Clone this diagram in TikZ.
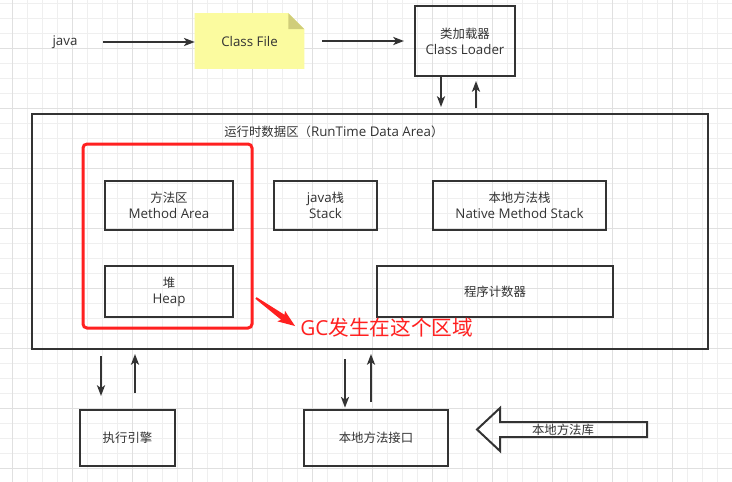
\documentclass[tikz,border=0pt]{standalone}
\usepackage{fontspec}
\setmainfont{Open Sans}
\newfontfamily\cjk{Noto Sans CJK SC}
\usetikzlibrary{arrows.meta}
\definecolor{ink}{HTML}{333333}
\definecolor{gridminor}{HTML}{EFEFEF}
\definecolor{gridmajor}{HTML}{E0E0E0}
\definecolor{gcred}{HTML}{FF2020}
\definecolor{notefill}{HTML}{FBFB9F}
\definecolor{notefold}{HTML}{D0CD7A}
\pgfdeclarelayer{gridlayer}
\pgfdeclarelayer{bg}
\pgfsetlayers{gridlayer,bg,main}
\newcommand\zh[1]{{\cjk\fontsize{9.3pt}{12pt}\selectfont #1}}
\newcommand\zhbig[1]{{\cjk\fontsize{15.5pt}{18pt}\selectfont #1}}
\tikzset{
  every node/.style={font=\fontsize{10pt}{12pt}\selectfont, text=ink},
  blk/.style n args={2}{draw=ink, line width=1.5pt, minimum width=#1*0.75pt,
    minimum height=#2*0.75pt, inner sep=0pt, align=center},
  conn/.style={draw=ink, line width=1.5pt, -{Stealth[length=8pt,width=6pt,inset=2pt]}},
}
\begin{document}
\begin{tikzpicture}[x=0.75pt, y=-0.75pt]
\useasboundingbox (0,0) rectangle (732,482);
\begin{pgfonlayer}{gridlayer}
  \fill[white] (0,0) rectangle (732,482);
  \foreach \i in {0,...,48} \draw[gridminor, line width=0.75pt] ({12+15*\i},0) -- ({12+15*\i},482);
  \foreach \i in {0,...,32} \draw[gridminor, line width=0.75pt] (0,{3+15*\i}) -- (732,{3+15*\i});
  \foreach \i in {0,...,12} \draw[gridmajor, line width=0.75pt] ({12+60*\i},0) -- ({12+60*\i},482);
  \foreach \i in {0,...,7} \draw[gridmajor, line width=0.75pt] (0,{48+60*\i}) -- (732,{48+60*\i});
\end{pgfonlayer}

% top row
\node[inner sep=0pt] (java) at (65,42) {java};
\node[minimum width=109*0.75pt, minimum height=55*0.75pt, inner sep=0pt] (cf) at (249.5,41) {Class File};
\begin{pgfonlayer}{bg}
  \fill[notefill] (cf.south west) -- (cf.south east) -- ([yshift=-12pt]cf.north east)
    -- ([xshift=-12pt]cf.north east) -- (cf.north west) -- cycle;
  \fill[notefold] ([xshift=-12pt]cf.north east) -- ([xshift=-12pt,yshift=-12pt]cf.north east)
    -- ([yshift=-12pt]cf.north east) -- cycle;
\end{pgfonlayer}
\node[blk={100}{70}] (cl) at (465,41) {\zh{类加载器}\\Class Loader};

% runtime data area
\node[blk={676}{235}] (rda) at (370,231.5) {};
\node[inner sep=0pt, anchor=west] (title) at (224,132) {\zh{运行时数据区（}RunTime Data Area\zh{）}};
\node[draw=gcred, line width=2.25pt, rounded corners=3pt, minimum width=169*0.75pt,
  minimum height=184*0.75pt, inner sep=0pt] (gcbox) at (167.5,236) {};
\node[blk={128}{49}] (ma) at (169,205.5) {\zh{方法区}\\Method Area};
\node[blk={128}{51}] (heap) at (169,291.5) {\zh{堆}\\Heap};
\node[blk={103}{49}] (js) at (325.5,205.5) {java\zh{栈}\\Stack};
\node[blk={173}{49}] (nms) at (519.5,205.5) {\zh{本地方法栈}\\Native Method Stack};
\node[blk={236}{51}] (pc) at (495,291.5) {\zh{程序计数器}};

% GC annotation
\fill[gcred] (256.58,297.19) -- (284.55,314.8) -- (284.96,310.79) -- (295,326)
  -- (277.38,321.35) -- (281.05,319.68) -- (255.42,298.81) -- cycle;
\node[inner sep=0pt, anchor=west, text=gcred, font=\fontsize{15.5pt}{18pt}\selectfont] (gctext) at (300,328) {GC\zhbig{发生在这个区域}};

% bottom row
\node[blk={95}{56}] (ee) at (127.5,438) {\zh{执行引擎}};
\node[blk={144}{56}] (nmi) at (376,438) {\zh{本地方法接口}};
\draw[ink, line width=1.5pt, line join=miter] (647,422) -- (500,422) -- (500,408) -- (477,429.5)
  -- (500,451) -- (500,437) -- (647,437) -- cycle;
\node[inner sep=0pt] (lib) at (563,430) {\zh{本地方法库}};

% connectors
\coordinate (xa) at (441,0);
\coordinate (xb) at (476,0);
\coordinate (xc) at (101,0);
\coordinate (xd) at (135,0);
\coordinate (xe) at (345,0);
\coordinate (xf) at (371,0);
\draw[conn, shorten <=19pt] (java.east) -- (java.east -| cf.west);
\draw[conn, shorten <=13.5pt, shorten >=7.5pt] (cf.east) -- (cf.east -| cl.west);
\draw[conn, shorten >=4.5pt] (cl.south -| xa) -- (rda.north -| xa);
\draw[conn, shorten <=3.75pt, shorten >=3pt] (rda.north -| xb) -- (cl.south -| xb);
\draw[conn, shorten <=4.5pt, shorten >=9.75pt] (rda.south -| xc) -- (ee.north -| xc);
\draw[conn, shorten <=12pt, shorten >=3pt] (ee.north -| xd) -- (rda.south -| xd);
\draw[conn, shorten <=6.75pt, shorten >=1pt] (rda.south -| xe) -- (nmi.north -| xe);
\draw[conn, shorten <=5.25pt, shorten >=3pt] (nmi.north -| xf) -- (rda.south -| xf);
\end{tikzpicture}
\end{document}
